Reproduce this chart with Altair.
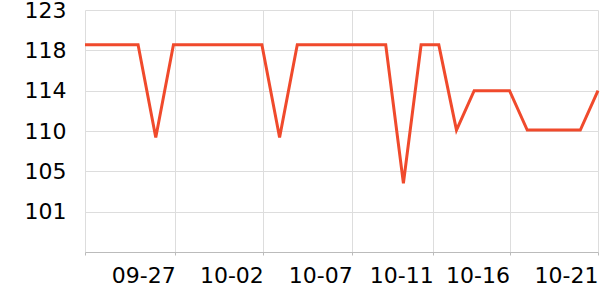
import altair as alt
import pandas as pd

# Daily values, 2023-09-22 .. 2023-10-21
dates = [d.strftime("%Y-%m-%d") for d in pd.date_range("2023-09-22", "2023-10-21", freq="D")]
values = [
    119.0, 119.0, 119.0, 119.0, 108.9,
    119.0, 119.0, 119.0, 119.0, 119.0, 119.0, 108.9,
    119.0, 119.0, 119.0, 119.0, 119.0, 119.0, 103.9,
    119.0, 119.0, 109.7,
    114.0, 114.0, 114.0,
    109.7, 109.7, 109.7, 109.7,
    114.0,
]

# Axis tick settings
y_ticks = [122.8, 118.4, 114.0, 109.6, 105.2, 100.8]
y_domain = [96.4, 122.8]
x_ticks = [
    (2023, 9, 22, 0, 0),
    (2023, 9, 27, 2, 24),
    (2023, 10, 2, 2, 0),
    (2023, 10, 7, 2, 40),
    (2023, 10, 11, 16, 30),
    (2023, 10, 16, 0, 0),
    (2023, 10, 21, 0, 0),
]

df = pd.DataFrame({"date": dates, "value": values})

font = "DejaVu Sans"

chart = (
    alt.Chart(df)
    .mark_line(color="#f04a2c", strokeWidth=3)
    .encode(
        x=alt.X(
            "date:T",
            scale=alt.Scale(type="utc", nice=False),
            axis=alt.Axis(
                title=None,
                values=[alt.DateTime(year=y, month=m, date=d, hours=h, minutes=mi, utc=True)
                        for (y, m, d, h, mi) in x_ticks],
                labelExpr="datum.index == 0 ? '' : utcFormat(datum.value, '%m-%d')",
                labelAlign="right",
                labelBaseline="top",
                labelFontSize=22,
                labelFont=font,
                labelColor="#000",
                labelPadding=10,
                labelOverlap=False,
                labelFlush=False,
                tickSize=3,
                tickColor="#bbbbbb",
                domainColor="#bbbbbb",
                grid=True,
                gridColor="#dddddd",
            ),
        ),
        y=alt.Y(
            "value:Q",
            scale=alt.Scale(domain=y_domain, nice=False, zero=False),
            axis=alt.Axis(
                title=None,
                values=y_ticks,
                format=".0f",
                labelFontSize=22,
                labelFont=font,
                labelColor="#000",
                labelPadding=19,
                ticks=False,
                domain=False,
                grid=True,
                gridColor="#dddddd",
                labelOverlap=False,
                labelFlush=False,
            ),
        ),
    )
    .properties(
        width=513,
        height=242,
        autosize=alt.AutoSizeParams(type="none"),
        padding={"left": 85, "top": 10, "right": 2, "bottom": 48},
    )
    .configure_view(stroke=None)
)

chart.save("out.html", embed_options={"renderer": "svg", "actions": False})
